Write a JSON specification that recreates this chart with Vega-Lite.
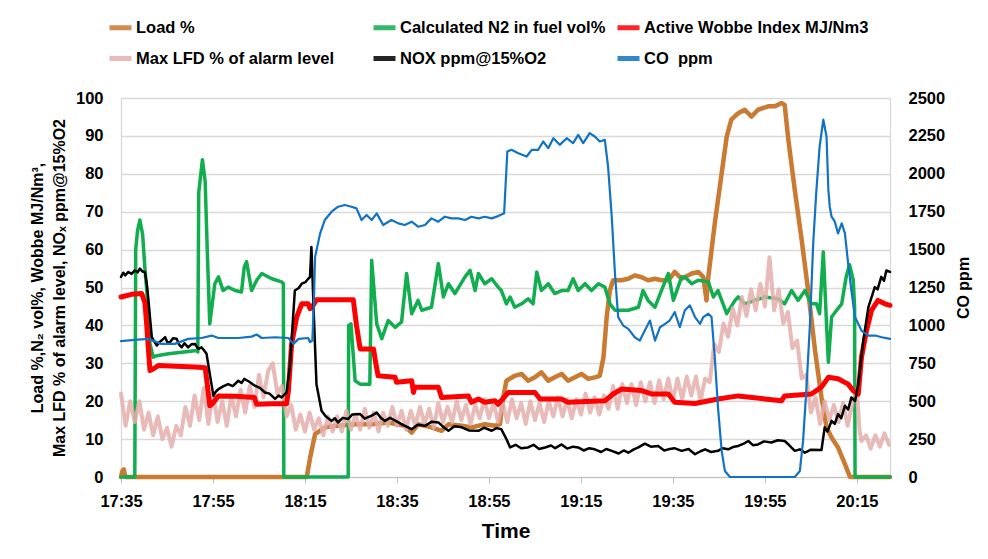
{
  "$schema": "https://vega.github.io/schema/vega-lite/v6.json",
  "width": 769,
  "height": 379,
  "autosize": "none",
  "padding": {"left": 121, "top": 98, "right": 98, "bottom": 82},
  "background": "white",
  "config": {
    "view": {"stroke": null},
    "font": "Liberation Sans",
    "axis": {"labelFont": "Liberation Sans", "titleFont": "Liberation Sans", "labelFontWeight": "bold", "titleFontWeight": "bold", "labelColor": "#000", "titleColor": "#000"}
  },
  "datasets": {
    "left": [
      {"s": "Load %", "m": 1055, "v": 0}, {"s": "Load %", "m": 1055.3, "v": 1.6}, {"s": "Load %", "m": 1055.6, "v": 2.0}, {"s": "Load %", "m": 1055.9, "v": 0.3}, {"s": "Load %", "m": 1056.2, "v": 0},
      {"s": "Load %", "m": 1095.4, "v": 0}, {"s": "Load %", "m": 1096.1, "v": 5}, {"s": "Load %", "m": 1097.2, "v": 11.3}, {"s": "Load %", "m": 1098.6, "v": 12.5}, {"s": "Load %", "m": 1099.4, "v": 13.1},
      {"s": "Load %", "m": 1102.2, "v": 13.5}, {"s": "Load %", "m": 1105.9, "v": 13.9}, {"s": "Load %", "m": 1109.5, "v": 13.9}, {"s": "Load %", "m": 1113.1, "v": 14.4}, {"s": "Load %", "m": 1116.7, "v": 13.5},
      {"s": "Load %", "m": 1118.2, "v": 11.7}, {"s": "Load %", "m": 1119.6, "v": 13.9}, {"s": "Load %", "m": 1122.5, "v": 13.1}, {"s": "Load %", "m": 1124.7, "v": 12.2}, {"s": "Load %", "m": 1126.2, "v": 13.9},
      {"s": "Load %", "m": 1129.1, "v": 13.5}, {"s": "Load %", "m": 1131.2, "v": 13.1}, {"s": "Load %", "m": 1134.1, "v": 13.9}, {"s": "Load %", "m": 1136.3, "v": 13.5}, {"s": "Load %", "m": 1137.4, "v": 14},
      {"s": "Load %", "m": 1138.1, "v": 21}, {"s": "Load %", "m": 1138.8, "v": 25.4}, {"s": "Load %", "m": 1140.6, "v": 26.7}, {"s": "Load %", "m": 1142.1, "v": 27.2}, {"s": "Load %", "m": 1143.5, "v": 25.4},
      {"s": "Load %", "m": 1145.0, "v": 26.3}, {"s": "Load %", "m": 1146.4, "v": 27.6}, {"s": "Load %", "m": 1147.9, "v": 25.4}, {"s": "Load %", "m": 1149.3, "v": 26.3}, {"s": "Load %", "m": 1150.8, "v": 27.2},
      {"s": "Load %", "m": 1152.2, "v": 25.4}, {"s": "Load %", "m": 1153.7, "v": 26.3}, {"s": "Load %", "m": 1155.1, "v": 27.2}, {"s": "Load %", "m": 1156.6, "v": 25.9}, {"s": "Load %", "m": 1158.0, "v": 26.3},
      {"s": "Load %", "m": 1159.1, "v": 26.7}, {"s": "Load %", "m": 1159.9, "v": 31.6}, {"s": "Load %", "m": 1160.6, "v": 42.2}, {"s": "Load %", "m": 1161.3, "v": 49.2}, {"s": "Load %", "m": 1162.0, "v": 51.9},
      {"s": "Load %", "m": 1163.8, "v": 51.9}, {"s": "Load %", "m": 1165.3, "v": 52.3}, {"s": "Load %", "m": 1166.7, "v": 53.2}, {"s": "Load %", "m": 1168.2, "v": 52.7}, {"s": "Load %", "m": 1169.6, "v": 51.9},
      {"s": "Load %", "m": 1171.1, "v": 52.3}, {"s": "Load %", "m": 1172.5, "v": 51.9}, {"s": "Load %", "m": 1174.0, "v": 51.9}, {"s": "Load %", "m": 1175.4, "v": 54.1}, {"s": "Load %", "m": 1176.9, "v": 52.3},
      {"s": "Load %", "m": 1178.3, "v": 53.2}, {"s": "Load %", "m": 1179.1, "v": 53.7}, {"s": "Load %", "m": 1180.5, "v": 54.1}, {"s": "Load %", "m": 1181.6, "v": 52.8}, {"s": "Load %", "m": 1182.3, "v": 46.6},
      {"s": "Load %", "m": 1182.7, "v": 52.8}, {"s": "Load %", "m": 1184.1, "v": 66.9}, {"s": "Load %", "m": 1185.6, "v": 80.1}, {"s": "Load %", "m": 1186.7, "v": 89.8}, {"s": "Load %", "m": 1187.7, "v": 94.3},
      {"s": "Load %", "m": 1189.2, "v": 96.0}, {"s": "Load %", "m": 1190.6, "v": 96.9}, {"s": "Load %", "m": 1192.1, "v": 95.1}, {"s": "Load %", "m": 1193.5, "v": 96.9}, {"s": "Load %", "m": 1195.7, "v": 97.8},
      {"s": "Load %", "m": 1197.2, "v": 97.8}, {"s": "Load %", "m": 1198.6, "v": 98.7}, {"s": "Load %", "m": 1199.3, "v": 98.2}, {"s": "Load %", "m": 1200.1, "v": 89.0}, {"s": "Load %", "m": 1201.5, "v": 75.7},
      {"s": "Load %", "m": 1203.0, "v": 62.5}, {"s": "Load %", "m": 1204.4, "v": 49.2}, {"s": "Load %", "m": 1205.9, "v": 33.4}, {"s": "Load %", "m": 1207.3, "v": 21.0}, {"s": "Load %", "m": 1208.4, "v": 13.1},
      {"s": "Load %", "m": 1209.5, "v": 10.4}, {"s": "Load %", "m": 1210.9, "v": 7.8}, {"s": "Load %", "m": 1212.4, "v": 3.4}, {"s": "Load %", "m": 1213.5, "v": 0}, {"s": "Load %", "m": 1222.2, "v": 0},

      {"s": "Calculated N2 in fuel vol%", "m": 1055, "v": 0}, {"s": "Calculated N2 in fuel vol%", "m": 1058.0, "v": 0}, {"s": "Calculated N2 in fuel vol%", "m": 1058.2, "v": 60}, {"s": "Calculated N2 in fuel vol%", "m": 1058.6, "v": 65}, {"s": "Calculated N2 in fuel vol%", "m": 1059.1, "v": 67.8},
      {"s": "Calculated N2 in fuel vol%", "m": 1059.7, "v": 64}, {"s": "Calculated N2 in fuel vol%", "m": 1060.2, "v": 55}, {"s": "Calculated N2 in fuel vol%", "m": 1060.6, "v": 49.2}, {"s": "Calculated N2 in fuel vol%", "m": 1061.3, "v": 35.1}, {"s": "Calculated N2 in fuel vol%", "m": 1062.0, "v": 31.6},
      {"s": "Calculated N2 in fuel vol%", "m": 1062.8, "v": 32.0}, {"s": "Calculated N2 in fuel vol%", "m": 1065.3, "v": 32.5}, {"s": "Calculated N2 in fuel vol%", "m": 1068.2, "v": 32.9}, {"s": "Calculated N2 in fuel vol%", "m": 1071.4, "v": 33.4}, {"s": "Calculated N2 in fuel vol%", "m": 1071.7, "v": 33},
      {"s": "Calculated N2 in fuel vol%", "m": 1071.9, "v": 75}, {"s": "Calculated N2 in fuel vol%", "m": 1072.7, "v": 83.7}, {"s": "Calculated N2 in fuel vol%", "m": 1073.3, "v": 78}, {"s": "Calculated N2 in fuel vol%", "m": 1073.8, "v": 58.1}, {"s": "Calculated N2 in fuel vol%", "m": 1074.3, "v": 40.4},
      {"s": "Calculated N2 in fuel vol%", "m": 1075.4, "v": 51.0}, {"s": "Calculated N2 in fuel vol%", "m": 1076.2, "v": 52.8}, {"s": "Calculated N2 in fuel vol%", "m": 1077.2, "v": 49.2}, {"s": "Calculated N2 in fuel vol%", "m": 1078.3, "v": 50.1}, {"s": "Calculated N2 in fuel vol%", "m": 1079.8, "v": 49.2},
      {"s": "Calculated N2 in fuel vol%", "m": 1081.2, "v": 48.8}, {"s": "Calculated N2 in fuel vol%", "m": 1081.8, "v": 55.4}, {"s": "Calculated N2 in fuel vol%", "m": 1082.3, "v": 56.8}, {"s": "Calculated N2 in fuel vol%", "m": 1083.4, "v": 49.2}, {"s": "Calculated N2 in fuel vol%", "m": 1084.5, "v": 51.9},
      {"s": "Calculated N2 in fuel vol%", "m": 1085.6, "v": 53.7}, {"s": "Calculated N2 in fuel vol%", "m": 1087.8, "v": 52.3}, {"s": "Calculated N2 in fuel vol%", "m": 1089.9, "v": 51.5}, {"s": "Calculated N2 in fuel vol%", "m": 1090.3, "v": 51}, {"s": "Calculated N2 in fuel vol%", "m": 1090.4, "v": 0},
      {"s": "Calculated N2 in fuel vol%", "m": 1104.4, "v": 0}, {"s": "Calculated N2 in fuel vol%", "m": 1104.5, "v": 40}, {"s": "Calculated N2 in fuel vol%", "m": 1105.0, "v": 40.4}, {"s": "Calculated N2 in fuel vol%", "m": 1105.9, "v": 25.4}, {"s": "Calculated N2 in fuel vol%", "m": 1107.0, "v": 24.5},
      {"s": "Calculated N2 in fuel vol%", "m": 1109.1, "v": 24.5}, {"s": "Calculated N2 in fuel vol%", "m": 1109.5, "v": 57.2}, {"s": "Calculated N2 in fuel vol%", "m": 1110.6, "v": 40.4}, {"s": "Calculated N2 in fuel vol%", "m": 1111.7, "v": 36.5}, {"s": "Calculated N2 in fuel vol%", "m": 1113.1, "v": 41.3},
      {"s": "Calculated N2 in fuel vol%", "m": 1114.6, "v": 39.5}, {"s": "Calculated N2 in fuel vol%", "m": 1116.0, "v": 40.9}, {"s": "Calculated N2 in fuel vol%", "m": 1117.1, "v": 53.7}, {"s": "Calculated N2 in fuel vol%", "m": 1118.2, "v": 43.1}, {"s": "Calculated N2 in fuel vol%", "m": 1119.6, "v": 46.6},
      {"s": "Calculated N2 in fuel vol%", "m": 1120.4, "v": 44.0}, {"s": "Calculated N2 in fuel vol%", "m": 1122.5, "v": 44.8}, {"s": "Calculated N2 in fuel vol%", "m": 1124.0, "v": 56.3}, {"s": "Calculated N2 in fuel vol%", "m": 1125.1, "v": 47.5}, {"s": "Calculated N2 in fuel vol%", "m": 1126.2, "v": 51.0},
      {"s": "Calculated N2 in fuel vol%", "m": 1127.6, "v": 48.4}, {"s": "Calculated N2 in fuel vol%", "m": 1129.8, "v": 52.8}, {"s": "Calculated N2 in fuel vol%", "m": 1130.9, "v": 54.5}, {"s": "Calculated N2 in fuel vol%", "m": 1132.0, "v": 49.2}, {"s": "Calculated N2 in fuel vol%", "m": 1132.7, "v": 53.7},
      {"s": "Calculated N2 in fuel vol%", "m": 1134.1, "v": 51.0}, {"s": "Calculated N2 in fuel vol%", "m": 1135.6, "v": 52.3}, {"s": "Calculated N2 in fuel vol%", "m": 1137.0, "v": 50.1}, {"s": "Calculated N2 in fuel vol%", "m": 1137.7, "v": 49.2}, {"s": "Calculated N2 in fuel vol%", "m": 1138.8, "v": 45.7},
      {"s": "Calculated N2 in fuel vol%", "m": 1139.6, "v": 47.5}, {"s": "Calculated N2 in fuel vol%", "m": 1140.6, "v": 44.8}, {"s": "Calculated N2 in fuel vol%", "m": 1142.1, "v": 45.7}, {"s": "Calculated N2 in fuel vol%", "m": 1143.5, "v": 47.0}, {"s": "Calculated N2 in fuel vol%", "m": 1144.6, "v": 45.7},
      {"s": "Calculated N2 in fuel vol%", "m": 1145.4, "v": 54.1}, {"s": "Calculated N2 in fuel vol%", "m": 1146.4, "v": 49.2}, {"s": "Calculated N2 in fuel vol%", "m": 1147.9, "v": 51.0}, {"s": "Calculated N2 in fuel vol%", "m": 1149.3, "v": 48.4}, {"s": "Calculated N2 in fuel vol%", "m": 1150.8, "v": 49.2},
      {"s": "Calculated N2 in fuel vol%", "m": 1152.2, "v": 49.2}, {"s": "Calculated N2 in fuel vol%", "m": 1153.3, "v": 52.3}, {"s": "Calculated N2 in fuel vol%", "m": 1154.4, "v": 49.2}, {"s": "Calculated N2 in fuel vol%", "m": 1155.9, "v": 51.0}, {"s": "Calculated N2 in fuel vol%", "m": 1157.3, "v": 49.2},
      {"s": "Calculated N2 in fuel vol%", "m": 1158.8, "v": 51.0}, {"s": "Calculated N2 in fuel vol%", "m": 1160.2, "v": 50.1}, {"s": "Calculated N2 in fuel vol%", "m": 1161.3, "v": 45.7}, {"s": "Calculated N2 in fuel vol%", "m": 1162.4, "v": 44.0}, {"s": "Calculated N2 in fuel vol%", "m": 1165.3, "v": 44.0},
      {"s": "Calculated N2 in fuel vol%", "m": 1167.5, "v": 44.8}, {"s": "Calculated N2 in fuel vol%", "m": 1168.5, "v": 49.2}, {"s": "Calculated N2 in fuel vol%", "m": 1169.6, "v": 46.6}, {"s": "Calculated N2 in fuel vol%", "m": 1171.1, "v": 44.8}, {"s": "Calculated N2 in fuel vol%", "m": 1172.5, "v": 49.2},
      {"s": "Calculated N2 in fuel vol%", "m": 1174.0, "v": 53.7}, {"s": "Calculated N2 in fuel vol%", "m": 1175.1, "v": 46.6}, {"s": "Calculated N2 in fuel vol%", "m": 1176.9, "v": 52.8}, {"s": "Calculated N2 in fuel vol%", "m": 1177.6, "v": 52.8}, {"s": "Calculated N2 in fuel vol%", "m": 1179.1, "v": 51.0},
      {"s": "Calculated N2 in fuel vol%", "m": 1180.5, "v": 51.9}, {"s": "Calculated N2 in fuel vol%", "m": 1182.7, "v": 51.5}, {"s": "Calculated N2 in fuel vol%", "m": 1183.8, "v": 47.5}, {"s": "Calculated N2 in fuel vol%", "m": 1184.8, "v": 49.2}, {"s": "Calculated N2 in fuel vol%", "m": 1185.9, "v": 45.7},
      {"s": "Calculated N2 in fuel vol%", "m": 1186.7, "v": 43.1}, {"s": "Calculated N2 in fuel vol%", "m": 1188.5, "v": 46.6}, {"s": "Calculated N2 in fuel vol%", "m": 1189.2, "v": 47.5}, {"s": "Calculated N2 in fuel vol%", "m": 1190.6, "v": 45.7}, {"s": "Calculated N2 in fuel vol%", "m": 1192.8, "v": 46.6},
      {"s": "Calculated N2 in fuel vol%", "m": 1195.0, "v": 47.5}, {"s": "Calculated N2 in fuel vol%", "m": 1197.9, "v": 47.0}, {"s": "Calculated N2 in fuel vol%", "m": 1199.3, "v": 45.7}, {"s": "Calculated N2 in fuel vol%", "m": 1200.8, "v": 49.2}, {"s": "Calculated N2 in fuel vol%", "m": 1202.2, "v": 46.6},
      {"s": "Calculated N2 in fuel vol%", "m": 1203.7, "v": 49.2}, {"s": "Calculated N2 in fuel vol%", "m": 1205.1, "v": 45.7}, {"s": "Calculated N2 in fuel vol%", "m": 1206.2, "v": 45.7}, {"s": "Calculated N2 in fuel vol%", "m": 1206.9, "v": 43.1}, {"s": "Calculated N2 in fuel vol%", "m": 1207.7, "v": 59.4},
      {"s": "Calculated N2 in fuel vol%", "m": 1208.4, "v": 40.4}, {"s": "Calculated N2 in fuel vol%", "m": 1208.8, "v": 30.3}, {"s": "Calculated N2 in fuel vol%", "m": 1209.5, "v": 42.2}, {"s": "Calculated N2 in fuel vol%", "m": 1210.6, "v": 44.0}, {"s": "Calculated N2 in fuel vol%", "m": 1211.7, "v": 45.7},
      {"s": "Calculated N2 in fuel vol%", "m": 1212.7, "v": 53}, {"s": "Calculated N2 in fuel vol%", "m": 1213.4, "v": 56}, {"s": "Calculated N2 in fuel vol%", "m": 1214.2, "v": 52}, {"s": "Calculated N2 in fuel vol%", "m": 1214.5, "v": 45}, {"s": "Calculated N2 in fuel vol%", "m": 1214.6, "v": 0},
      {"s": "Calculated N2 in fuel vol%", "m": 1222.2, "v": 0},

      {"s": "Active Wobbe Index MJ/Nm3", "m": 1055, "v": 47.5}, {"s": "Active Wobbe Index MJ/Nm3", "m": 1057.3, "v": 48.2}, {"s": "Active Wobbe Index MJ/Nm3", "m": 1059.5, "v": 48.4}, {"s": "Active Wobbe Index MJ/Nm3", "m": 1060.2, "v": 46}, {"s": "Active Wobbe Index MJ/Nm3", "m": 1060.6, "v": 40},
      {"s": "Active Wobbe Index MJ/Nm3", "m": 1061.0, "v": 33}, {"s": "Active Wobbe Index MJ/Nm3", "m": 1061.3, "v": 28.1}, {"s": "Active Wobbe Index MJ/Nm3", "m": 1062.0, "v": 28.5}, {"s": "Active Wobbe Index MJ/Nm3", "m": 1063.1, "v": 29.4}, {"s": "Active Wobbe Index MJ/Nm3", "m": 1067, "v": 29.2},
      {"s": "Active Wobbe Index MJ/Nm3", "m": 1071, "v": 29.0}, {"s": "Active Wobbe Index MJ/Nm3", "m": 1073.3, "v": 28.8}, {"s": "Active Wobbe Index MJ/Nm3", "m": 1073.8, "v": 24}, {"s": "Active Wobbe Index MJ/Nm3", "m": 1074.3, "v": 18.8}, {"s": "Active Wobbe Index MJ/Nm3", "m": 1075.0, "v": 19.5},
      {"s": "Active Wobbe Index MJ/Nm3", "m": 1076.2, "v": 21.4}, {"s": "Active Wobbe Index MJ/Nm3", "m": 1080, "v": 21.3}, {"s": "Active Wobbe Index MJ/Nm3", "m": 1084.0, "v": 21.0}, {"s": "Active Wobbe Index MJ/Nm3", "m": 1084.5, "v": 19.2}, {"s": "Active Wobbe Index MJ/Nm3", "m": 1088, "v": 19.3},
      {"s": "Active Wobbe Index MJ/Nm3", "m": 1091.0, "v": 19.3}, {"s": "Active Wobbe Index MJ/Nm3", "m": 1091.4, "v": 22.8}, {"s": "Active Wobbe Index MJ/Nm3", "m": 1092.1, "v": 35.1}, {"s": "Active Wobbe Index MJ/Nm3", "m": 1093.2, "v": 42.2}, {"s": "Active Wobbe Index MJ/Nm3", "m": 1094.3, "v": 45.7},
      {"s": "Active Wobbe Index MJ/Nm3", "m": 1095.7, "v": 45.7}, {"s": "Active Wobbe Index MJ/Nm3", "m": 1096.1, "v": 44.4}, {"s": "Active Wobbe Index MJ/Nm3", "m": 1096.8, "v": 45.3}, {"s": "Active Wobbe Index MJ/Nm3", "m": 1097.5, "v": 46.8}, {"s": "Active Wobbe Index MJ/Nm3", "m": 1105.5, "v": 46.8},
      {"s": "Active Wobbe Index MJ/Nm3", "m": 1106.2, "v": 40}, {"s": "Active Wobbe Index MJ/Nm3", "m": 1107.0, "v": 33.8}, {"s": "Active Wobbe Index MJ/Nm3", "m": 1109.9, "v": 33.8}, {"s": "Active Wobbe Index MJ/Nm3", "m": 1110.4, "v": 30}, {"s": "Active Wobbe Index MJ/Nm3", "m": 1110.9, "v": 26.7},
      {"s": "Active Wobbe Index MJ/Nm3", "m": 1114.6, "v": 26.3}, {"s": "Active Wobbe Index MJ/Nm3", "m": 1114.9, "v": 25.0}, {"s": "Active Wobbe Index MJ/Nm3", "m": 1118.2, "v": 25.4}, {"s": "Active Wobbe Index MJ/Nm3", "m": 1118.6, "v": 22.3}, {"s": "Active Wobbe Index MJ/Nm3", "m": 1118.9, "v": 23.7},
      {"s": "Active Wobbe Index MJ/Nm3", "m": 1124.0, "v": 23.7}, {"s": "Active Wobbe Index MJ/Nm3", "m": 1124.7, "v": 21.0}, {"s": "Active Wobbe Index MJ/Nm3", "m": 1130.5, "v": 21.4}, {"s": "Active Wobbe Index MJ/Nm3", "m": 1131.2, "v": 19.7}, {"s": "Active Wobbe Index MJ/Nm3", "m": 1132.7, "v": 20.6},
      {"s": "Active Wobbe Index MJ/Nm3", "m": 1134.1, "v": 19.7}, {"s": "Active Wobbe Index MJ/Nm3", "m": 1136.3, "v": 20.1}, {"s": "Active Wobbe Index MJ/Nm3", "m": 1137.0, "v": 19.2}, {"s": "Active Wobbe Index MJ/Nm3", "m": 1139.2, "v": 22.3}, {"s": "Active Wobbe Index MJ/Nm3", "m": 1145.0, "v": 22.3},
      {"s": "Active Wobbe Index MJ/Nm3", "m": 1146.1, "v": 20.6}, {"s": "Active Wobbe Index MJ/Nm3", "m": 1150.8, "v": 20.6}, {"s": "Active Wobbe Index MJ/Nm3", "m": 1152.2, "v": 19.7}, {"s": "Active Wobbe Index MJ/Nm3", "m": 1160.2, "v": 20.1}, {"s": "Active Wobbe Index MJ/Nm3", "m": 1162.0, "v": 21.9},
      {"s": "Active Wobbe Index MJ/Nm3", "m": 1163.8, "v": 23.2}, {"s": "Active Wobbe Index MJ/Nm3", "m": 1168.2, "v": 22.8}, {"s": "Active Wobbe Index MJ/Nm3", "m": 1170.4, "v": 21.9}, {"s": "Active Wobbe Index MJ/Nm3", "m": 1174.0, "v": 21.9}, {"s": "Active Wobbe Index MJ/Nm3", "m": 1175.4, "v": 19.7},
      {"s": "Active Wobbe Index MJ/Nm3", "m": 1179.8, "v": 19.4}, {"s": "Active Wobbe Index MJ/Nm3", "m": 1184.8, "v": 20.6}, {"s": "Active Wobbe Index MJ/Nm3", "m": 1189.2, "v": 21.4}, {"s": "Active Wobbe Index MJ/Nm3", "m": 1195.0, "v": 20.6}, {"s": "Active Wobbe Index MJ/Nm3", "m": 1198.6, "v": 20.1},
      {"s": "Active Wobbe Index MJ/Nm3", "m": 1199.3, "v": 21.4}, {"s": "Active Wobbe Index MJ/Nm3", "m": 1205.1, "v": 21.9}, {"s": "Active Wobbe Index MJ/Nm3", "m": 1207.3, "v": 23.7}, {"s": "Active Wobbe Index MJ/Nm3", "m": 1208.8, "v": 26.3}, {"s": "Active Wobbe Index MJ/Nm3", "m": 1210.9, "v": 25.9},
      {"s": "Active Wobbe Index MJ/Nm3", "m": 1213.1, "v": 24.5}, {"s": "Active Wobbe Index MJ/Nm3", "m": 1214.2, "v": 22.8}, {"s": "Active Wobbe Index MJ/Nm3", "m": 1215.3, "v": 21.9}, {"s": "Active Wobbe Index MJ/Nm3", "m": 1216.0, "v": 31.6}, {"s": "Active Wobbe Index MJ/Nm3", "m": 1217.1, "v": 38.7},
      {"s": "Active Wobbe Index MJ/Nm3", "m": 1218.2, "v": 44.0}, {"s": "Active Wobbe Index MJ/Nm3", "m": 1219.6, "v": 46.6}, {"s": "Active Wobbe Index MJ/Nm3", "m": 1221.1, "v": 45.7}, {"s": "Active Wobbe Index MJ/Nm3", "m": 1222.2, "v": 45.3},

      {"s": "Max LFD % of alarm level", "m": 1055, "v": 22}, {"s": "Max LFD % of alarm level", "m": 1056, "v": 13.5}, {"s": "Max LFD % of alarm level", "m": 1057, "v": 20}, {"s": "Max LFD % of alarm level", "m": 1058, "v": 14.5}, {"s": "Max LFD % of alarm level", "m": 1059, "v": 20},
      {"s": "Max LFD % of alarm level", "m": 1060, "v": 12.5}, {"s": "Max LFD % of alarm level", "m": 1061, "v": 17}, {"s": "Max LFD % of alarm level", "m": 1062, "v": 11}, {"s": "Max LFD % of alarm level", "m": 1063, "v": 16}, {"s": "Max LFD % of alarm level", "m": 1064, "v": 10},
      {"s": "Max LFD % of alarm level", "m": 1065, "v": 13}, {"s": "Max LFD % of alarm level", "m": 1066, "v": 8}, {"s": "Max LFD % of alarm level", "m": 1067, "v": 13.5}, {"s": "Max LFD % of alarm level", "m": 1068, "v": 11}, {"s": "Max LFD % of alarm level", "m": 1069, "v": 18.5},
      {"s": "Max LFD % of alarm level", "m": 1070, "v": 13.5}, {"s": "Max LFD % of alarm level", "m": 1071, "v": 21.5}, {"s": "Max LFD % of alarm level", "m": 1072, "v": 15}, {"s": "Max LFD % of alarm level", "m": 1073, "v": 23.5}, {"s": "Max LFD % of alarm level", "m": 1074, "v": 14},
      {"s": "Max LFD % of alarm level", "m": 1075, "v": 22}, {"s": "Max LFD % of alarm level", "m": 1076, "v": 14.5}, {"s": "Max LFD % of alarm level", "m": 1077, "v": 20}, {"s": "Max LFD % of alarm level", "m": 1078, "v": 13.5}, {"s": "Max LFD % of alarm level", "m": 1079, "v": 21.5},
      {"s": "Max LFD % of alarm level", "m": 1080, "v": 16}, {"s": "Max LFD % of alarm level", "m": 1081, "v": 23}, {"s": "Max LFD % of alarm level", "m": 1082, "v": 17}, {"s": "Max LFD % of alarm level", "m": 1083, "v": 24}, {"s": "Max LFD % of alarm level", "m": 1084, "v": 18.5},
      {"s": "Max LFD % of alarm level", "m": 1085, "v": 27}, {"s": "Max LFD % of alarm level", "m": 1086, "v": 21}, {"s": "Max LFD % of alarm level", "m": 1087, "v": 28}, {"s": "Max LFD % of alarm level", "m": 1088, "v": 30}, {"s": "Max LFD % of alarm level", "m": 1089, "v": 22},
      {"s": "Max LFD % of alarm level", "m": 1090, "v": 24}, {"s": "Max LFD % of alarm level", "m": 1091, "v": 16}, {"s": "Max LFD % of alarm level", "m": 1092, "v": 19}, {"s": "Max LFD % of alarm level", "m": 1093, "v": 12.5}, {"s": "Max LFD % of alarm level", "m": 1094, "v": 16.5},
      {"s": "Max LFD % of alarm level", "m": 1095, "v": 12}, {"s": "Max LFD % of alarm level", "m": 1096, "v": 17}, {"s": "Max LFD % of alarm level", "m": 1097, "v": 12.5}, {"s": "Max LFD % of alarm level", "m": 1098, "v": 15.5}, {"s": "Max LFD % of alarm level", "m": 1099, "v": 11},
      {"s": "Max LFD % of alarm level", "m": 1100, "v": 16}, {"s": "Max LFD % of alarm level", "m": 1101, "v": 12}, {"s": "Max LFD % of alarm level", "m": 1102, "v": 16}, {"s": "Max LFD % of alarm level", "m": 1103, "v": 12}, {"s": "Max LFD % of alarm level", "m": 1104, "v": 17.5},
      {"s": "Max LFD % of alarm level", "m": 1105, "v": 12.5}, {"s": "Max LFD % of alarm level", "m": 1106, "v": 16.5}, {"s": "Max LFD % of alarm level", "m": 1107, "v": 12.5}, {"s": "Max LFD % of alarm level", "m": 1108, "v": 18}, {"s": "Max LFD % of alarm level", "m": 1109, "v": 13},
      {"s": "Max LFD % of alarm level", "m": 1110, "v": 17}, {"s": "Max LFD % of alarm level", "m": 1111, "v": 12}, {"s": "Max LFD % of alarm level", "m": 1112, "v": 17}, {"s": "Max LFD % of alarm level", "m": 1113, "v": 13.5}, {"s": "Max LFD % of alarm level", "m": 1114, "v": 18.5},
      {"s": "Max LFD % of alarm level", "m": 1115, "v": 13.5}, {"s": "Max LFD % of alarm level", "m": 1116, "v": 17.5}, {"s": "Max LFD % of alarm level", "m": 1117, "v": 12.5}, {"s": "Max LFD % of alarm level", "m": 1118, "v": 17.5}, {"s": "Max LFD % of alarm level", "m": 1119, "v": 13.5},
      {"s": "Max LFD % of alarm level", "m": 1120, "v": 18.5}, {"s": "Max LFD % of alarm level", "m": 1121, "v": 14}, {"s": "Max LFD % of alarm level", "m": 1122, "v": 18}, {"s": "Max LFD % of alarm level", "m": 1123, "v": 13}, {"s": "Max LFD % of alarm level", "m": 1124, "v": 19.5},
      {"s": "Max LFD % of alarm level", "m": 1125, "v": 14.5}, {"s": "Max LFD % of alarm level", "m": 1126, "v": 18.5}, {"s": "Max LFD % of alarm level", "m": 1127, "v": 14.5}, {"s": "Max LFD % of alarm level", "m": 1128, "v": 20}, {"s": "Max LFD % of alarm level", "m": 1129, "v": 15},
      {"s": "Max LFD % of alarm level", "m": 1130, "v": 19}, {"s": "Max LFD % of alarm level", "m": 1131, "v": 14}, {"s": "Max LFD % of alarm level", "m": 1132, "v": 19}, {"s": "Max LFD % of alarm level", "m": 1133, "v": 15.5}, {"s": "Max LFD % of alarm level", "m": 1134, "v": 20.5},
      {"s": "Max LFD % of alarm level", "m": 1135, "v": 15.5}, {"s": "Max LFD % of alarm level", "m": 1136, "v": 19.5}, {"s": "Max LFD % of alarm level", "m": 1137, "v": 14.5}, {"s": "Max LFD % of alarm level", "m": 1138, "v": 19.5}, {"s": "Max LFD % of alarm level", "m": 1139, "v": 14.5},
      {"s": "Max LFD % of alarm level", "m": 1140, "v": 20.5}, {"s": "Max LFD % of alarm level", "m": 1141, "v": 15.5}, {"s": "Max LFD % of alarm level", "m": 1142, "v": 19.5}, {"s": "Max LFD % of alarm level", "m": 1143, "v": 14}, {"s": "Max LFD % of alarm level", "m": 1144, "v": 20},
      {"s": "Max LFD % of alarm level", "m": 1145, "v": 15}, {"s": "Max LFD % of alarm level", "m": 1146, "v": 19.5}, {"s": "Max LFD % of alarm level", "m": 1147, "v": 14.5}, {"s": "Max LFD % of alarm level", "m": 1148, "v": 20}, {"s": "Max LFD % of alarm level", "m": 1149, "v": 16},
      {"s": "Max LFD % of alarm level", "m": 1150, "v": 21}, {"s": "Max LFD % of alarm level", "m": 1151, "v": 16}, {"s": "Max LFD % of alarm level", "m": 1152, "v": 20.5}, {"s": "Max LFD % of alarm level", "m": 1153, "v": 15.5}, {"s": "Max LFD % of alarm level", "m": 1154, "v": 20.5},
      {"s": "Max LFD % of alarm level", "m": 1155, "v": 16.5}, {"s": "Max LFD % of alarm level", "m": 1156, "v": 22}, {"s": "Max LFD % of alarm level", "m": 1157, "v": 17}, {"s": "Max LFD % of alarm level", "m": 1158, "v": 21}, {"s": "Max LFD % of alarm level", "m": 1159, "v": 16.5},
      {"s": "Max LFD % of alarm level", "m": 1160, "v": 21.5}, {"s": "Max LFD % of alarm level", "m": 1161, "v": 18}, {"s": "Max LFD % of alarm level", "m": 1162, "v": 24}, {"s": "Max LFD % of alarm level", "m": 1163, "v": 18}, {"s": "Max LFD % of alarm level", "m": 1164, "v": 24.5},
      {"s": "Max LFD % of alarm level", "m": 1165, "v": 19.5}, {"s": "Max LFD % of alarm level", "m": 1166, "v": 24.5}, {"s": "Max LFD % of alarm level", "m": 1167, "v": 19}, {"s": "Max LFD % of alarm level", "m": 1168, "v": 25}, {"s": "Max LFD % of alarm level", "m": 1169, "v": 20},
      {"s": "Max LFD % of alarm level", "m": 1170, "v": 25}, {"s": "Max LFD % of alarm level", "m": 1171, "v": 19.5}, {"s": "Max LFD % of alarm level", "m": 1172, "v": 25.5}, {"s": "Max LFD % of alarm level", "m": 1173, "v": 20.5}, {"s": "Max LFD % of alarm level", "m": 1174, "v": 26},
      {"s": "Max LFD % of alarm level", "m": 1175, "v": 20}, {"s": "Max LFD % of alarm level", "m": 1176, "v": 26}, {"s": "Max LFD % of alarm level", "m": 1177, "v": 20.5}, {"s": "Max LFD % of alarm level", "m": 1178, "v": 26.5}, {"s": "Max LFD % of alarm level", "m": 1179, "v": 21.5},
      {"s": "Max LFD % of alarm level", "m": 1180, "v": 26.5}, {"s": "Max LFD % of alarm level", "m": 1181, "v": 20}, {"s": "Max LFD % of alarm level", "m": 1182, "v": 26}, {"s": "Max LFD % of alarm level", "m": 1183, "v": 25}, {"s": "Max LFD % of alarm level", "m": 1184, "v": 35},
      {"s": "Max LFD % of alarm level", "m": 1185, "v": 33}, {"s": "Max LFD % of alarm level", "m": 1186, "v": 40.5}, {"s": "Max LFD % of alarm level", "m": 1187, "v": 37}, {"s": "Max LFD % of alarm level", "m": 1188, "v": 44.5}, {"s": "Max LFD % of alarm level", "m": 1189, "v": 40},
      {"s": "Max LFD % of alarm level", "m": 1190, "v": 47.5}, {"s": "Max LFD % of alarm level", "m": 1191, "v": 42.5}, {"s": "Max LFD % of alarm level", "m": 1192, "v": 49.5}, {"s": "Max LFD % of alarm level", "m": 1193, "v": 44}, {"s": "Max LFD % of alarm level", "m": 1194, "v": 51},
      {"s": "Max LFD % of alarm level", "m": 1195, "v": 45}, {"s": "Max LFD % of alarm level", "m": 1196, "v": 58}, {"s": "Max LFD % of alarm level", "m": 1197, "v": 44}, {"s": "Max LFD % of alarm level", "m": 1198, "v": 49.5}, {"s": "Max LFD % of alarm level", "m": 1199, "v": 40.5},
      {"s": "Max LFD % of alarm level", "m": 1200, "v": 43.5}, {"s": "Max LFD % of alarm level", "m": 1201, "v": 34}, {"s": "Max LFD % of alarm level", "m": 1202, "v": 36}, {"s": "Max LFD % of alarm level", "m": 1203, "v": 26}, {"s": "Max LFD % of alarm level", "m": 1204, "v": 27},
      {"s": "Max LFD % of alarm level", "m": 1205, "v": 17}, {"s": "Max LFD % of alarm level", "m": 1206, "v": 21}, {"s": "Max LFD % of alarm level", "m": 1207, "v": 14}, {"s": "Max LFD % of alarm level", "m": 1208, "v": 20}, {"s": "Max LFD % of alarm level", "m": 1209, "v": 15},
      {"s": "Max LFD % of alarm level", "m": 1210, "v": 19}, {"s": "Max LFD % of alarm level", "m": 1211, "v": 14.5}, {"s": "Max LFD % of alarm level", "m": 1212, "v": 19.5}, {"s": "Max LFD % of alarm level", "m": 1213, "v": 13.5}, {"s": "Max LFD % of alarm level", "m": 1214, "v": 19.5},
      {"s": "Max LFD % of alarm level", "m": 1215, "v": 23}, {"s": "Max LFD % of alarm level", "m": 1215.6, "v": 12}, {"s": "Max LFD % of alarm level", "m": 1216, "v": 9.5}, {"s": "Max LFD % of alarm level", "m": 1217, "v": 11}, {"s": "Max LFD % of alarm level", "m": 1218, "v": 7.5},
      {"s": "Max LFD % of alarm level", "m": 1219, "v": 11}, {"s": "Max LFD % of alarm level", "m": 1220, "v": 8}, {"s": "Max LFD % of alarm level", "m": 1221, "v": 11.5}, {"s": "Max LFD % of alarm level", "m": 1222, "v": 8.5},

      {"s": "NOX ppm@15%O2", "m": 1055, "v": 52.8}, {"s": "NOX ppm@15%O2", "m": 1055.5, "v": 53.9}, {"s": "NOX ppm@15%O2", "m": 1055.9, "v": 53.2}, {"s": "NOX ppm@15%O2", "m": 1056.6, "v": 54.1}, {"s": "NOX ppm@15%O2", "m": 1057.3, "v": 53.6},
      {"s": "NOX ppm@15%O2", "m": 1058.0, "v": 54.5}, {"s": "NOX ppm@15%O2", "m": 1058.6, "v": 54.0}, {"s": "NOX ppm@15%O2", "m": 1059.1, "v": 55.0}, {"s": "NOX ppm@15%O2", "m": 1059.7, "v": 54.2}, {"s": "NOX ppm@15%O2", "m": 1060.2, "v": 54.1},
      {"s": "NOX ppm@15%O2", "m": 1060.6, "v": 51}, {"s": "NOX ppm@15%O2", "m": 1060.9, "v": 47.5}, {"s": "NOX ppm@15%O2", "m": 1061.3, "v": 42.2}, {"s": "NOX ppm@15%O2", "m": 1061.7, "v": 36.9}, {"s": "NOX ppm@15%O2", "m": 1062.2, "v": 35.8},
      {"s": "NOX ppm@15%O2", "m": 1062.8, "v": 34.7}, {"s": "NOX ppm@15%O2", "m": 1063.3, "v": 35.5}, {"s": "NOX ppm@15%O2", "m": 1063.8, "v": 36.0}, {"s": "NOX ppm@15%O2", "m": 1064.6, "v": 36.9}, {"s": "NOX ppm@15%O2", "m": 1065.1, "v": 35.5},
      {"s": "NOX ppm@15%O2", "m": 1065.7, "v": 35.6}, {"s": "NOX ppm@15%O2", "m": 1066.3, "v": 36.6}, {"s": "NOX ppm@15%O2", "m": 1067.1, "v": 36.5}, {"s": "NOX ppm@15%O2", "m": 1067.6, "v": 35.0}, {"s": "NOX ppm@15%O2", "m": 1068.2, "v": 34.2},
      {"s": "NOX ppm@15%O2", "m": 1068.8, "v": 35.3}, {"s": "NOX ppm@15%O2", "m": 1069.6, "v": 34.2}, {"s": "NOX ppm@15%O2", "m": 1070.3, "v": 35.0}, {"s": "NOX ppm@15%O2", "m": 1071.1, "v": 35.1}, {"s": "NOX ppm@15%O2", "m": 1071.8, "v": 33.8},
      {"s": "NOX ppm@15%O2", "m": 1072.5, "v": 34.2}, {"s": "NOX ppm@15%O2", "m": 1073.0, "v": 33.5}, {"s": "NOX ppm@15%O2", "m": 1073.6, "v": 32.5}, {"s": "NOX ppm@15%O2", "m": 1074.3, "v": 27.2}, {"s": "NOX ppm@15%O2", "m": 1075.1, "v": 21.4},
      {"s": "NOX ppm@15%O2", "m": 1075.6, "v": 22.5}, {"s": "NOX ppm@15%O2", "m": 1076.2, "v": 23.2}, {"s": "NOX ppm@15%O2", "m": 1077.2, "v": 23.9}, {"s": "NOX ppm@15%O2", "m": 1078.3, "v": 24.5}, {"s": "NOX ppm@15%O2", "m": 1079.3, "v": 24.0},
      {"s": "NOX ppm@15%O2", "m": 1080.5, "v": 25.4}, {"s": "NOX ppm@15%O2", "m": 1081.2, "v": 24.8}, {"s": "NOX ppm@15%O2", "m": 1081.8, "v": 25.9}, {"s": "NOX ppm@15%O2", "m": 1082.8, "v": 25.2}, {"s": "NOX ppm@15%O2", "m": 1084.1, "v": 24.1},
      {"s": "NOX ppm@15%O2", "m": 1085.2, "v": 23.5}, {"s": "NOX ppm@15%O2", "m": 1086.3, "v": 22.3}, {"s": "NOX ppm@15%O2", "m": 1087.3, "v": 22.0}, {"s": "NOX ppm@15%O2", "m": 1088.5, "v": 20.6}, {"s": "NOX ppm@15%O2", "m": 1089.3, "v": 21.5},
      {"s": "NOX ppm@15%O2", "m": 1089.9, "v": 21.0}, {"s": "NOX ppm@15%O2", "m": 1091.0, "v": 22.3}, {"s": "NOX ppm@15%O2", "m": 1091.7, "v": 29.0}, {"s": "NOX ppm@15%O2", "m": 1092.8, "v": 49.2}, {"s": "NOX ppm@15%O2", "m": 1093.6, "v": 49.8},
      {"s": "NOX ppm@15%O2", "m": 1094.3, "v": 51.0}, {"s": "NOX ppm@15%O2", "m": 1095.1, "v": 51.4}, {"s": "NOX ppm@15%O2", "m": 1095.7, "v": 52.3}, {"s": "NOX ppm@15%O2", "m": 1096.1, "v": 52.8}, {"s": "NOX ppm@15%O2", "m": 1096.4, "v": 60.7},
      {"s": "NOX ppm@15%O2", "m": 1097.0, "v": 40.4}, {"s": "NOX ppm@15%O2", "m": 1097.5, "v": 24.5}, {"s": "NOX ppm@15%O2", "m": 1098.6, "v": 17.5}, {"s": "NOX ppm@15%O2", "m": 1099.5, "v": 16.0}, {"s": "NOX ppm@15%O2", "m": 1100.8, "v": 14.8},
      {"s": "NOX ppm@15%O2", "m": 1101.5, "v": 15.5}, {"s": "NOX ppm@15%O2", "m": 1102.2, "v": 14.4}, {"s": "NOX ppm@15%O2", "m": 1103.2, "v": 15.6}, {"s": "NOX ppm@15%O2", "m": 1104.4, "v": 15.3}, {"s": "NOX ppm@15%O2", "m": 1105.3, "v": 16.5},
      {"s": "NOX ppm@15%O2", "m": 1107.0, "v": 16.6}, {"s": "NOX ppm@15%O2", "m": 1108.0, "v": 15.4}, {"s": "NOX ppm@15%O2", "m": 1109.5, "v": 16.2}, {"s": "NOX ppm@15%O2", "m": 1110.6, "v": 17.0}, {"s": "NOX ppm@15%O2", "m": 1111.5, "v": 15.6},
      {"s": "NOX ppm@15%O2", "m": 1112.4, "v": 14.8}, {"s": "NOX ppm@15%O2", "m": 1113.5, "v": 15.6}, {"s": "NOX ppm@15%O2", "m": 1115.3, "v": 14.4}, {"s": "NOX ppm@15%O2", "m": 1116.5, "v": 13.6}, {"s": "NOX ppm@15%O2", "m": 1118.2, "v": 12.6},
      {"s": "NOX ppm@15%O2", "m": 1119.5, "v": 13.8}, {"s": "NOX ppm@15%O2", "m": 1121.1, "v": 13.5}, {"s": "NOX ppm@15%O2", "m": 1122.6, "v": 14.6}, {"s": "NOX ppm@15%O2", "m": 1124.0, "v": 14.4}, {"s": "NOX ppm@15%O2", "m": 1125.3, "v": 13.0},
      {"s": "NOX ppm@15%O2", "m": 1126.2, "v": 12.2}, {"s": "NOX ppm@15%O2", "m": 1127.5, "v": 13.4}, {"s": "NOX ppm@15%O2", "m": 1129.1, "v": 13.1}, {"s": "NOX ppm@15%O2", "m": 1130.6, "v": 12.3}, {"s": "NOX ppm@15%O2", "m": 1132.7, "v": 12.2},
      {"s": "NOX ppm@15%O2", "m": 1134.0, "v": 13.0}, {"s": "NOX ppm@15%O2", "m": 1135.6, "v": 12.2}, {"s": "NOX ppm@15%O2", "m": 1136.7, "v": 12.9}, {"s": "NOX ppm@15%O2", "m": 1137.7, "v": 12.6}, {"s": "NOX ppm@15%O2", "m": 1138.8, "v": 10.0},
      {"s": "NOX ppm@15%O2", "m": 1139.6, "v": 7.8}, {"s": "NOX ppm@15%O2", "m": 1140.8, "v": 8.5}, {"s": "NOX ppm@15%O2", "m": 1142.0, "v": 7.6}, {"s": "NOX ppm@15%O2", "m": 1143.5, "v": 7.8}, {"s": "NOX ppm@15%O2", "m": 1144.7, "v": 8.5},
      {"s": "NOX ppm@15%O2", "m": 1145.9, "v": 7.4}, {"s": "NOX ppm@15%O2", "m": 1147.2, "v": 7.8}, {"s": "NOX ppm@15%O2", "m": 1148.5, "v": 8.3}, {"s": "NOX ppm@15%O2", "m": 1149.4, "v": 7.6}, {"s": "NOX ppm@15%O2", "m": 1150.8, "v": 8.6},
      {"s": "NOX ppm@15%O2", "m": 1152.0, "v": 7.5}, {"s": "NOX ppm@15%O2", "m": 1153.3, "v": 8.0}, {"s": "NOX ppm@15%O2", "m": 1154.4, "v": 7.8}, {"s": "NOX ppm@15%O2", "m": 1155.6, "v": 7.0}, {"s": "NOX ppm@15%O2", "m": 1156.8, "v": 7.6},
      {"s": "NOX ppm@15%O2", "m": 1158.0, "v": 7.3}, {"s": "NOX ppm@15%O2", "m": 1159.4, "v": 6.6}, {"s": "NOX ppm@15%O2", "m": 1160.5, "v": 7.4}, {"s": "NOX ppm@15%O2", "m": 1161.7, "v": 6.9}, {"s": "NOX ppm@15%O2", "m": 1163.2, "v": 6.2},
      {"s": "NOX ppm@15%O2", "m": 1164.3, "v": 7.0}, {"s": "NOX ppm@15%O2", "m": 1165.3, "v": 6.4}, {"s": "NOX ppm@15%O2", "m": 1166.5, "v": 7.3}, {"s": "NOX ppm@15%O2", "m": 1167.5, "v": 7.8}, {"s": "NOX ppm@15%O2", "m": 1168.9, "v": 8.8},
      {"s": "NOX ppm@15%O2", "m": 1170.2, "v": 8.0}, {"s": "NOX ppm@15%O2", "m": 1171.8, "v": 8.2}, {"s": "NOX ppm@15%O2", "m": 1173.1, "v": 7.0}, {"s": "NOX ppm@15%O2", "m": 1174.0, "v": 7.3}, {"s": "NOX ppm@15%O2", "m": 1175.3, "v": 7.6},
      {"s": "NOX ppm@15%O2", "m": 1176.9, "v": 6.9}, {"s": "NOX ppm@15%O2", "m": 1178.4, "v": 7.4}, {"s": "NOX ppm@15%O2", "m": 1179.8, "v": 6.0}, {"s": "NOX ppm@15%O2", "m": 1181.0, "v": 6.8}, {"s": "NOX ppm@15%O2", "m": 1182.0, "v": 7.3},
      {"s": "NOX ppm@15%O2", "m": 1183.3, "v": 6.6}, {"s": "NOX ppm@15%O2", "m": 1184.8, "v": 6.9}, {"s": "NOX ppm@15%O2", "m": 1185.8, "v": 7.6}, {"s": "NOX ppm@15%O2", "m": 1187.0, "v": 7.3}, {"s": "NOX ppm@15%O2", "m": 1188.3, "v": 8.0},
      {"s": "NOX ppm@15%O2", "m": 1189.2, "v": 8.2}, {"s": "NOX ppm@15%O2", "m": 1190.4, "v": 8.8}, {"s": "NOX ppm@15%O2", "m": 1191.4, "v": 9.5}, {"s": "NOX ppm@15%O2", "m": 1192.4, "v": 8.4}, {"s": "NOX ppm@15%O2", "m": 1193.5, "v": 8.6},
      {"s": "NOX ppm@15%O2", "m": 1194.8, "v": 9.4}, {"s": "NOX ppm@15%O2", "m": 1196.4, "v": 9.1}, {"s": "NOX ppm@15%O2", "m": 1197.8, "v": 9.7}, {"s": "NOX ppm@15%O2", "m": 1199.3, "v": 9.5}, {"s": "NOX ppm@15%O2", "m": 1200.2, "v": 8.5},
      {"s": "NOX ppm@15%O2", "m": 1201.5, "v": 6.9}, {"s": "NOX ppm@15%O2", "m": 1202.6, "v": 7.3}, {"s": "NOX ppm@15%O2", "m": 1203.7, "v": 6.4}, {"s": "NOX ppm@15%O2", "m": 1205.0, "v": 7.2}, {"s": "NOX ppm@15%O2", "m": 1207.3, "v": 7.1},
      {"s": "NOX ppm@15%O2", "m": 1208.0, "v": 13.1}, {"s": "NOX ppm@15%O2", "m": 1208.6, "v": 12.0}, {"s": "NOX ppm@15%O2", "m": 1209.5, "v": 14.8}, {"s": "NOX ppm@15%O2", "m": 1210.2, "v": 14.0}, {"s": "NOX ppm@15%O2", "m": 1210.9, "v": 16.6},
      {"s": "NOX ppm@15%O2", "m": 1211.6, "v": 15.5}, {"s": "NOX ppm@15%O2", "m": 1212.4, "v": 18.8}, {"s": "NOX ppm@15%O2", "m": 1213.1, "v": 17.8}, {"s": "NOX ppm@15%O2", "m": 1213.8, "v": 21.0}, {"s": "NOX ppm@15%O2", "m": 1214.6, "v": 20.0},
      {"s": "NOX ppm@15%O2", "m": 1215.3, "v": 24.5}, {"s": "NOX ppm@15%O2", "m": 1216.4, "v": 36.0}, {"s": "NOX ppm@15%O2", "m": 1217.5, "v": 44.8}, {"s": "NOX ppm@15%O2", "m": 1218.9, "v": 50.1}, {"s": "NOX ppm@15%O2", "m": 1219.5, "v": 49.5},
      {"s": "NOX ppm@15%O2", "m": 1220.3, "v": 52.8}, {"s": "NOX ppm@15%O2", "m": 1220.9, "v": 51.8}, {"s": "NOX ppm@15%O2", "m": 1221.4, "v": 54.5}, {"s": "NOX ppm@15%O2", "m": 1222.2, "v": 54.1}
    ],
    "co": [
      {"s": "CO\u00a0 ppm", "m": 1055, "ppm": 896}, {"s": "CO\u00a0 ppm", "m": 1058.0, "ppm": 905}, {"s": "CO\u00a0 ppm", "m": 1060.9, "ppm": 911}, {"s": "CO\u00a0 ppm", "m": 1063.8, "ppm": 878}, {"s": "CO\u00a0 ppm", "m": 1066.7, "ppm": 878},
      {"s": "CO\u00a0 ppm", "m": 1069.6, "ppm": 911}, {"s": "CO\u00a0 ppm", "m": 1072.5, "ppm": 917}, {"s": "CO\u00a0 ppm", "m": 1074.7, "ppm": 933}, {"s": "CO\u00a0 ppm", "m": 1076.2, "ppm": 917}, {"s": "CO\u00a0 ppm", "m": 1078.3, "ppm": 917},
      {"s": "CO\u00a0 ppm", "m": 1080.5, "ppm": 917}, {"s": "CO\u00a0 ppm", "m": 1083.4, "ppm": 926}, {"s": "CO\u00a0 ppm", "m": 1084.5, "ppm": 940}, {"s": "CO\u00a0 ppm", "m": 1085.6, "ppm": 917}, {"s": "CO\u00a0 ppm", "m": 1088.5, "ppm": 922},
      {"s": "CO\u00a0 ppm", "m": 1091.4, "ppm": 917}, {"s": "CO\u00a0 ppm", "m": 1092.5, "ppm": 878}, {"s": "CO\u00a0 ppm", "m": 1093.6, "ppm": 911}, {"s": "CO\u00a0 ppm", "m": 1095.7, "ppm": 917}, {"s": "CO\u00a0 ppm", "m": 1096.1, "ppm": 889},
      {"s": "CO\u00a0 ppm", "m": 1096.6, "ppm": 900}, {"s": "CO\u00a0 ppm", "m": 1096.9, "ppm": 1120}, {"s": "CO\u00a0 ppm", "m": 1097.2, "ppm": 1452}, {"s": "CO\u00a0 ppm", "m": 1098.3, "ppm": 1607}, {"s": "CO\u00a0 ppm", "m": 1099.3, "ppm": 1695},
      {"s": "CO\u00a0 ppm", "m": 1100.8, "ppm": 1750}, {"s": "CO\u00a0 ppm", "m": 1102.2, "ppm": 1783}, {"s": "CO\u00a0 ppm", "m": 1103.7, "ppm": 1794}, {"s": "CO\u00a0 ppm", "m": 1105.1, "ppm": 1783}, {"s": "CO\u00a0 ppm", "m": 1106.2, "ppm": 1772},
      {"s": "CO\u00a0 ppm", "m": 1107.3, "ppm": 1695}, {"s": "CO\u00a0 ppm", "m": 1108.4, "ppm": 1728}, {"s": "CO\u00a0 ppm", "m": 1109.5, "ppm": 1695}, {"s": "CO\u00a0 ppm", "m": 1110.6, "ppm": 1739}, {"s": "CO\u00a0 ppm", "m": 1112.0, "ppm": 1662},
      {"s": "CO\u00a0 ppm", "m": 1113.8, "ppm": 1695}, {"s": "CO\u00a0 ppm", "m": 1115.3, "ppm": 1673}, {"s": "CO\u00a0 ppm", "m": 1116.7, "ppm": 1662}, {"s": "CO\u00a0 ppm", "m": 1118.2, "ppm": 1684}, {"s": "CO\u00a0 ppm", "m": 1119.6, "ppm": 1651},
      {"s": "CO\u00a0 ppm", "m": 1121.1, "ppm": 1662}, {"s": "CO\u00a0 ppm", "m": 1122.5, "ppm": 1706}, {"s": "CO\u00a0 ppm", "m": 1124.0, "ppm": 1684}, {"s": "CO\u00a0 ppm", "m": 1125.4, "ppm": 1717}, {"s": "CO\u00a0 ppm", "m": 1126.9, "ppm": 1706},
      {"s": "CO\u00a0 ppm", "m": 1128.3, "ppm": 1706}, {"s": "CO\u00a0 ppm", "m": 1129.8, "ppm": 1695}, {"s": "CO\u00a0 ppm", "m": 1131.2, "ppm": 1717}, {"s": "CO\u00a0 ppm", "m": 1132.7, "ppm": 1706}, {"s": "CO\u00a0 ppm", "m": 1134.1, "ppm": 1717},
      {"s": "CO\u00a0 ppm", "m": 1135.6, "ppm": 1706}, {"s": "CO\u00a0 ppm", "m": 1137.0, "ppm": 1721}, {"s": "CO\u00a0 ppm", "m": 1138.3, "ppm": 1739}, {"s": "CO\u00a0 ppm", "m": 1139.0, "ppm": 2147}, {"s": "CO\u00a0 ppm", "m": 1139.9, "ppm": 2158},
      {"s": "CO\u00a0 ppm", "m": 1141.4, "ppm": 2136}, {"s": "CO\u00a0 ppm", "m": 1143.2, "ppm": 2114}, {"s": "CO\u00a0 ppm", "m": 1144.3, "ppm": 2158}, {"s": "CO\u00a0 ppm", "m": 1145.7, "ppm": 2158}, {"s": "CO\u00a0 ppm", "m": 1146.8, "ppm": 2213},
      {"s": "CO\u00a0 ppm", "m": 1147.9, "ppm": 2169}, {"s": "CO\u00a0 ppm", "m": 1149.0, "ppm": 2235}, {"s": "CO\u00a0 ppm", "m": 1150.4, "ppm": 2191}, {"s": "CO\u00a0 ppm", "m": 1151.9, "ppm": 2235}, {"s": "CO\u00a0 ppm", "m": 1153.3, "ppm": 2202},
      {"s": "CO\u00a0 ppm", "m": 1154.4, "ppm": 2257}, {"s": "CO\u00a0 ppm", "m": 1155.5, "ppm": 2202}, {"s": "CO\u00a0 ppm", "m": 1156.9, "ppm": 2268}, {"s": "CO\u00a0 ppm", "m": 1158.0, "ppm": 2246}, {"s": "CO\u00a0 ppm", "m": 1159.1, "ppm": 2213},
      {"s": "CO\u00a0 ppm", "m": 1160.2, "ppm": 2224}, {"s": "CO\u00a0 ppm", "m": 1160.9, "ppm": 2048}, {"s": "CO\u00a0 ppm", "m": 1161.7, "ppm": 1717}, {"s": "CO\u00a0 ppm", "m": 1162.4, "ppm": 1342}, {"s": "CO\u00a0 ppm", "m": 1163.1, "ppm": 1055},
      {"s": "CO\u00a0 ppm", "m": 1164.2, "ppm": 999}, {"s": "CO\u00a0 ppm", "m": 1165.3, "ppm": 977}, {"s": "CO\u00a0 ppm", "m": 1166.7, "ppm": 922}, {"s": "CO\u00a0 ppm", "m": 1167.8, "ppm": 900}, {"s": "CO\u00a0 ppm", "m": 1168.9, "ppm": 966},
      {"s": "CO\u00a0 ppm", "m": 1170.0, "ppm": 1032}, {"s": "CO\u00a0 ppm", "m": 1171.1, "ppm": 900}, {"s": "CO\u00a0 ppm", "m": 1172.2, "ppm": 988}, {"s": "CO\u00a0 ppm", "m": 1173.3, "ppm": 1010}, {"s": "CO\u00a0 ppm", "m": 1174.3, "ppm": 1032},
      {"s": "CO\u00a0 ppm", "m": 1175.4, "ppm": 1088}, {"s": "CO\u00a0 ppm", "m": 1176.5, "ppm": 988}, {"s": "CO\u00a0 ppm", "m": 1177.6, "ppm": 1100}, {"s": "CO\u00a0 ppm", "m": 1178.7, "ppm": 1132}, {"s": "CO\u00a0 ppm", "m": 1179.8, "ppm": 1055},
      {"s": "CO\u00a0 ppm", "m": 1180.9, "ppm": 1010}, {"s": "CO\u00a0 ppm", "m": 1181.6, "ppm": 1055}, {"s": "CO\u00a0 ppm", "m": 1182.7, "ppm": 1077}, {"s": "CO\u00a0 ppm", "m": 1183.4, "ppm": 1055}, {"s": "CO\u00a0 ppm", "m": 1184.1, "ppm": 790},
      {"s": "CO\u00a0 ppm", "m": 1184.8, "ppm": 459}, {"s": "CO\u00a0 ppm", "m": 1185.6, "ppm": 172}, {"s": "CO\u00a0 ppm", "m": 1186.3, "ppm": 40}, {"s": "CO\u00a0 ppm", "m": 1187.4, "ppm": 0}, {"s": "CO\u00a0 ppm", "m": 1201.5, "ppm": 0},
      {"s": "CO\u00a0 ppm", "m": 1202.6, "ppm": 40}, {"s": "CO\u00a0 ppm", "m": 1203.3, "ppm": 238}, {"s": "CO\u00a0 ppm", "m": 1204.0, "ppm": 569}, {"s": "CO\u00a0 ppm", "m": 1204.8, "ppm": 1010}, {"s": "CO\u00a0 ppm", "m": 1205.5, "ppm": 1540},
      {"s": "CO\u00a0 ppm", "m": 1206.2, "ppm": 1893}, {"s": "CO\u00a0 ppm", "m": 1206.9, "ppm": 2180}, {"s": "CO\u00a0 ppm", "m": 1207.7, "ppm": 2357}, {"s": "CO\u00a0 ppm", "m": 1208.4, "ppm": 2246}, {"s": "CO\u00a0 ppm", "m": 1208.8, "ppm": 1893},
      {"s": "CO\u00a0 ppm", "m": 1209.1, "ppm": 1783}, {"s": "CO\u00a0 ppm", "m": 1209.5, "ppm": 1717}, {"s": "CO\u00a0 ppm", "m": 1210.2, "ppm": 1684}, {"s": "CO\u00a0 ppm", "m": 1210.9, "ppm": 1607}, {"s": "CO\u00a0 ppm", "m": 1211.7, "ppm": 1673},
      {"s": "CO\u00a0 ppm", "m": 1212.4, "ppm": 1607}, {"s": "CO\u00a0 ppm", "m": 1213.1, "ppm": 1408}, {"s": "CO\u00a0 ppm", "m": 1213.8, "ppm": 1231}, {"s": "CO\u00a0 ppm", "m": 1214.6, "ppm": 1055}, {"s": "CO\u00a0 ppm", "m": 1215.3, "ppm": 1010},
      {"s": "CO\u00a0 ppm", "m": 1216.0, "ppm": 966}, {"s": "CO\u00a0 ppm", "m": 1217.5, "ppm": 933}, {"s": "CO\u00a0 ppm", "m": 1219.0, "ppm": 933}, {"s": "CO\u00a0 ppm", "m": 1220.4, "ppm": 922}, {"s": "CO\u00a0 ppm", "m": 1222.2, "ppm": 911}
    ]
  },
  "encoding": {
    "x": {
      "field": "m", "type": "quantitative",
      "scale": {"domain": [1055, 1222.2], "nice": false, "zero": false},
      "axis": {
        "values": [1055, 1075, 1095, 1115, 1135, 1155, 1175, 1195, 1215],
        "labelExpr": "floor(datum.value / 60) + ':' + (datum.value % 60 < 10 ? '0' : '') + (datum.value % 60)",
        "title": "Time", "titleFontSize": 21, "titleX": 384.5, "titleY": 54, "titleBaseline": "middle",
        "labelFontSize": 16.5, "labelPadding": 10, "labelOverlap": false, "labelFlush": false,
        "grid": false, "tickColor": "#bfbfbf", "tickSize": 6, "domainColor": "#bfbfbf", "domainWidth": 1.2
      }
    },
    "color": {
      "field": "s", "type": "nominal",
      "scale": {
        "domain": ["Load %", "Calculated N2 in fuel vol%", "Active Wobbe Index MJ/Nm3", "Max LFD % of alarm level", "NOX ppm@15%O2", "CO\u00a0 ppm"],
        "range": ["#c97a33", "#12ad4f", "#ff0000", "#e4aeac", "#000000", "#1273c4"]
      },
      "legend": {
        "title": null, "orient": "none", "legendX": -14, "legendY": -84, "direction": "horizontal", "columns": 3,
        "columnPadding": 1, "rowPadding": 7, "symbolType": "stroke", "symbolStrokeWidth": 5, "symbolSize": 484,
        "labelFont": "Liberation Sans", "labelFontSize": 16.5, "labelFontWeight": "bold", "labelColor": "#000",
        "labelLimit": 400, "labelOffset": 2,
        "labelExpr": "datum.label == 'Max LFD % of alarm level' ? datum.label + '\u00a0\u00a0\u00a0\u00a0\u00a0\u00a0\u200b' : datum.label"
      }
    }
  },
  "layer": [
    {
      "data": {"name": "left"},
      "encoding": {
        "y": {
          "field": "v", "type": "quantitative",
          "scale": {"domain": [0, 100], "nice": false},
          "axis": {
            "values": [0, 10, 20, 30, 40, 50, 60, 70, 80, 90, 100],
            "title": ["Load %,N\u2082 vol%, Wobbe MJ/Nm\u00b3,", "Max LFD % of alarm level, NO\u2093 ppm@15%O2"],
            "titleFontSize": 16, "titleLineHeight": 22, "titleX": -84, "titleY": 189.5, "titleAngle": 270,
            "titleAlign": "center", "titleBaseline": "middle",
            "labelFontSize": 16.5, "labelPadding": 18, "ticks": false,
            "grid": true, "gridColor": "#d9d9d9", "gridWidth": 1.3, "domainColor": "#d9d9d9", "domainWidth": 1.3
          }
        }
      },
      "layer": [
        {"transform": [{"filter": "datum.s == 'Load %'"}], "mark": {"type": "line", "strokeWidth": 4.5, "strokeJoin": "round", "strokeCap": "round"}},
        {"transform": [{"filter": "datum.s == 'Calculated N2 in fuel vol%'"}], "mark": {"type": "line", "strokeWidth": 3.5, "strokeJoin": "round", "strokeCap": "round"}},
        {"transform": [{"filter": "datum.s == 'Max LFD % of alarm level'"}], "mark": {"type": "line", "strokeWidth": 4, "opacity": 0.85, "strokeJoin": "round", "strokeCap": "round"}},
        {"transform": [{"filter": "datum.s == 'Active Wobbe Index MJ/Nm3'"}], "mark": {"type": "line", "strokeWidth": 5, "strokeJoin": "round", "strokeCap": "round"}},
        {"transform": [{"filter": "datum.s == 'NOX ppm@15%O2'"}], "mark": {"type": "line", "strokeWidth": 2.5, "strokeJoin": "round", "strokeCap": "round"}}
      ]
    },
    {
      "data": {"name": "co"},
      "mark": {"type": "line", "strokeWidth": 2.2, "strokeJoin": "round", "strokeCap": "round"},
      "encoding": {
        "y": {
          "field": "ppm", "type": "quantitative",
          "scale": {"domain": [0, 2500], "nice": false},
          "axis": {
            "orient": "right",
            "values": [0, 250, 500, 750, 1000, 1250, 1500, 1750, 2000, 2250, 2500],
            "format": "d",
            "title": "CO ppm", "titleFontSize": 16, "titleX": 73, "titleY": 189.5, "titleAngle": 270,
            "titleAlign": "center", "titleBaseline": "middle",
            "labelFontSize": 16.5, "labelPadding": 18, "ticks": false,
            "grid": false, "domainColor": "#d9d9d9", "domainWidth": 1.3
          }
        }
      }
    }
  ],
  "resolve": {"scale": {"y": "independent"}}
}
